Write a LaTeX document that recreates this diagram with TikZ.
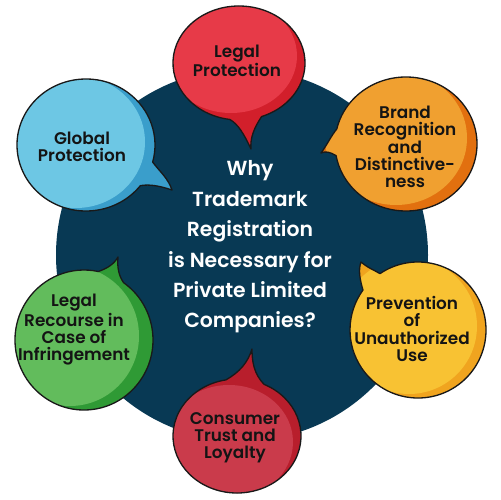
\documentclass[tikz,border=0pt]{standalone}
\usepackage{fontspec}
\setmainfont{Poppins}[UprightFont={* Medium},BoldFont={* SemiBold}]
\definecolor{navy}{HTML}{083954}
\definecolor{redL}{HTML}{E73A48}\definecolor{redD}{HTML}{D21F2B}
\definecolor{orangeL}{HTML}{F0A030}\definecolor{orangeD}{HTML}{E2700F}
\definecolor{blueL}{HTML}{6DC7E4}\definecolor{blueD}{HTML}{3A9ECB}
\definecolor{greenL}{HTML}{62BC5C}\definecolor{greenD}{HTML}{2F9A35}
\definecolor{yellowL}{HTML}{F8C233}\definecolor{yellowD}{HTML}{F0A41F}
\definecolor{crimL}{HTML}{CA3B4B}\definecolor{crimD}{HTML}{B81E2C}
\newcommand{\bubble}[9]{%
  \def\bp{(#1) ++(#4:#2 and #3) arc[start angle=#4,end angle=#5,x radius=#2,y radius=#3] #6}%
  \fill[#8] \bp;
  \begin{scope}
    \clip \bp;
    \fill[#7,shift={(#9)}] (#1) ellipse[x radius=#2,y radius=#3];
  \end{scope}
  \draw[outl] \bp;
}
\begin{document}
\begin{tikzpicture}[x=0.02cm,y=-0.02cm,
  outl/.style={draw=black!90,line width=0.75pt,line join=round},
  btext/.style={align=center,text=black!92,font=\fontsize{9.6}{9.8}\selectfont\bfseries,inner sep=0pt},
  ctext/.style={align=center,text=white,font=\fontsize{11.6}{17.3}\selectfont\bfseries,inner sep=0pt}]
\useasboundingbox (0,0) rectangle (500,500);
\fill[white] (0,0) rectangle (500,500);
\fill[navy] (242,255) circle[radius=186];
\node[ctext] (center) at (250,247) {Why\\Trademark\\Registration\\is Necessary for\\Private Limited\\Companies?};
% Legal Protection
\bubble{239,63}{66}{57}{98}{430}{.. controls (254,128) and (250,138) .. (251,149) .. controls (244,134) and (238,124) .. cycle}{redL}{redD}{-8,-7}
\node[btext] (lp) at (237,61) {Legal\\Protection};
% Brand
\bubble{406,144}{71}{67}{193}{530}{.. controls (330,152) and (326,151) .. (321,153) .. controls (327,145) and (331,136) .. cycle}{orangeL}{orangeD}{-10,-6}
\node[btext] (br) at (405,147) {Brand\\Recognition\\and\\Distinctive-\\ness};
% Global
\bubble{86,145}{69}{66}{38}{375}{.. controls (160,172) and (168,178) .. (172,190) .. controls (160,186) and (150,184) .. cycle}{blueL}{blueD}{-10,-3}
\node[btext] (gp) at (82,147) {Global\\Protection};
% Green
\bubble{84,340}{69}{70}{-55}{282}{.. controls (108,268) and (114,264) .. (118,257) .. controls (117,268) and (119,276) .. cycle}{greenL}{greenD}{-14,-4}
\node[btext] (lr) at (74,330) {Legal\\Recourse in\\Case of\\Infringement};
% Yellow
\bubble{418,330}{68}{68}{236}{576}{.. controls (360,280) and (358,270) .. (361,262) .. controls (368,268) and (374,270) .. cycle}{yellowL}{yellowD}{-9,-4}
\node[btext] (pu) at (412,329) {Prevention\\of\\Unauthorized\\Use};
% Consumer
\bubble{237,436}{64}{57}{-65}{260}{.. controls (240,372) and (248,362) .. (252,349) .. controls (252,362) and (254,374) .. cycle}{crimL}{crimD}{-8,6}
\node[btext] (ct) at (235,438) {Consumer\\Trust and\\Loyalty};
\end{tikzpicture}
\end{document}
